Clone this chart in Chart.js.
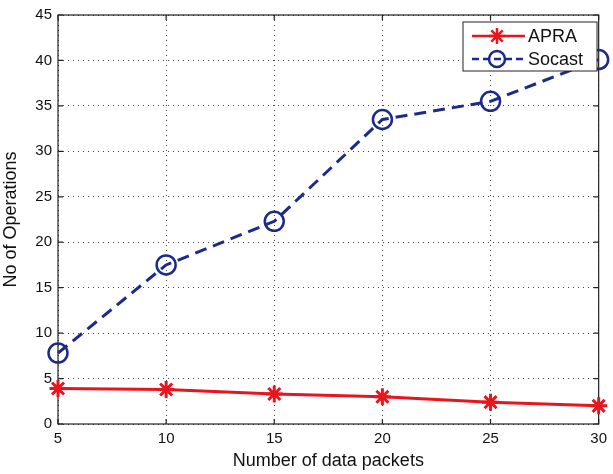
<!DOCTYPE html>
<html>
<head>
<meta charset="utf-8">
<script src="https://cdn.jsdelivr.net/npm/chart.js@4"></script>
<style>
  html, body { margin: 0; padding: 0; background: #fff; }
  #wrap { width: 613px; height: 474px; }
</style>
</head>
<body>
<div id="wrap"><canvas id="chart" width="613" height="474"></canvas></div>
<script>
// data
const packets = [5, 10, 15, 20, 25, 30];
const apra = [3.9, 3.8, 3.3, 3.0, 2.4, 2.0];
const socast = [7.8, 17.5, 22.3, 33.5, 35.5, 40.1];
const yTicks = [0, 5, 10, 15, 20, 25, 30, 35, 40, 45];

const RED = '#e8151f';
const BLUE = '#1c2a8a';
const FONT = 'Liberation Sans, Arial, sans-serif';

function drawStar(ctx, x, y, r, color) {
  ctx.save();
  ctx.strokeStyle = color;
  ctx.lineWidth = 2.5;
  ctx.setLineDash([]);
  ctx.beginPath();
  for (let i = 0; i < 4; i++) {
    const ang = i * Math.PI / 4;
    ctx.moveTo(x - r * Math.cos(ang), y - r * Math.sin(ang));
    ctx.lineTo(x + r * Math.cos(ang), y + r * Math.sin(ang));
  }
  ctx.stroke();
  ctx.restore();
}

// box, inward ticks and legend like the matlab figure
const boxPlugin = {
  id: 'boxPlugin',
  beforeDatasetsDraw(chart) {
    const ctx = chart.ctx;
    const a = chart.chartArea;
    const xs = chart.scales.x, ys = chart.scales.y;
    ctx.save();
    ctx.strokeStyle = '#222';
    ctx.lineWidth = 1.2;
    ctx.strokeRect(a.left, a.top, a.right - a.left, a.bottom - a.top);
    ctx.beginPath();
    packets.forEach(v => {
      const x = xs.getPixelForValue(v);
      ctx.moveTo(x, a.bottom); ctx.lineTo(x, a.bottom - 5);
      ctx.moveTo(x, a.top); ctx.lineTo(x, a.top + 5);
    });
    yTicks.forEach(v => {
      const y = ys.getPixelForValue(v);
      ctx.moveTo(a.left, y); ctx.lineTo(a.left + 5, y);
      ctx.moveTo(a.right, y); ctx.lineTo(a.right - 5, y);
    });
    ctx.stroke();
    ctx.restore();
  },
  afterDraw(chart) {
    const ctx = chart.ctx;
    ctx.save();
    const lx = 463, ly = 22, lw = 134, lh = 49;
    ctx.fillStyle = '#fff';
    ctx.fillRect(lx, ly, lw, lh);
    ctx.strokeStyle = '#222';
    ctx.lineWidth = 1;
    ctx.strokeRect(lx, ly, lw, lh);

    const rowY = [ly + 14, ly + 37];
    // APRA
    ctx.strokeStyle = RED;
    ctx.lineWidth = 2.5;
    ctx.beginPath();
    ctx.moveTo(lx + 9, rowY[0]); ctx.lineTo(lx + 62, rowY[0]);
    ctx.stroke();
    drawStar(ctx, lx + 34, rowY[0], 8, RED);
    // Socast
    ctx.strokeStyle = BLUE;
    ctx.setLineDash([7, 4]);
    ctx.beginPath();
    ctx.moveTo(lx + 9, rowY[1]); ctx.lineTo(lx + 62, rowY[1]);
    ctx.stroke();
    ctx.setLineDash([]);
    ctx.fillStyle = '#fff';
    ctx.beginPath();
    ctx.arc(lx + 34, rowY[1], 8, 0, Math.PI * 2);
    ctx.stroke();

    ctx.fillStyle = '#111';
    ctx.font = '18px ' + FONT;
    ctx.textBaseline = 'middle';
    ctx.textAlign = 'left';
    ctx.fillText('APRA', lx + 65, rowY[0] + 1);
    ctx.fillText('Socast', lx + 65, rowY[1] + 1);
    ctx.restore();
  }
};

const ctx = document.getElementById('chart').getContext('2d');
new Chart(ctx, {
  type: 'line',
  data: {
    labels: packets,
    datasets: [
      {
        label: 'APRA',
        data: apra,
        borderColor: RED,
        backgroundColor: RED,
        borderWidth: 3,
        pointStyle: 'star',
        pointRadius: 8.5,
        pointBorderWidth: 3,
        pointBorderColor: RED,
        clip: false,
        tension: 0
      },
      {
        label: 'Socast',
        data: socast,
        borderColor: BLUE,
        backgroundColor: 'rgba(0,0,0,0)',
        borderWidth: 3,
        borderDash: [12, 7],
        pointStyle: 'circle',
        pointRadius: 9.5,
        pointBorderWidth: 2.5,
        pointBorderColor: BLUE,
        pointBackgroundColor: 'rgba(0,0,0,0)',
        clip: false,
        tension: 0
      }
    ]
  },
  options: {
    responsive: false,
    animation: false,
    layout: { padding: { left: 0, top: 13, right: 9, bottom: 0 } },
    plugins: {
      legend: { display: false },
      tooltip: { enabled: false }
    },
    scales: {
      x: {
        type: 'linear',
        min: 5,
        max: 30,
        afterFit(scale) { scale.height = 50; },
        afterBuildTicks(scale) { scale.ticks = packets.map(v => ({ value: v })); },
        grid: {
          color: '#444',
          lineWidth: 1,
          drawTicks: false
        },
        border: { display: false, dash: [1, 4] },
        ticks: {
          color: '#111',
          font: { family: FONT, size: 15 },
          padding: 6,
          maxRotation: 0
        },
        title: {
          display: true,
          text: 'Number of data packets',
          color: '#111',
          font: { family: FONT, size: 18 },
          padding: { top: 0, bottom: 2 }
        }
      },
      y: {
        min: 0,
        max: 45,
        afterFit(scale) { scale.width = 58; },
        afterBuildTicks(scale) { scale.ticks = yTicks.map(v => ({ value: v })); },
        grid: {
          color: '#444',
          lineWidth: 1,
          drawTicks: false
        },
        border: { display: false, dash: [1, 4] },
        ticks: {
          color: '#111',
          font: { family: FONT, size: 15 },
          padding: 6
        },
        title: {
          display: true,
          text: 'No of Operations',
          color: '#111',
          font: { family: FONT, size: 18 },
          padding: { top: 0, bottom: 0 }
        }
      }
    }
  },
  plugins: [boxPlugin]
});
</script>
</body>
</html>
